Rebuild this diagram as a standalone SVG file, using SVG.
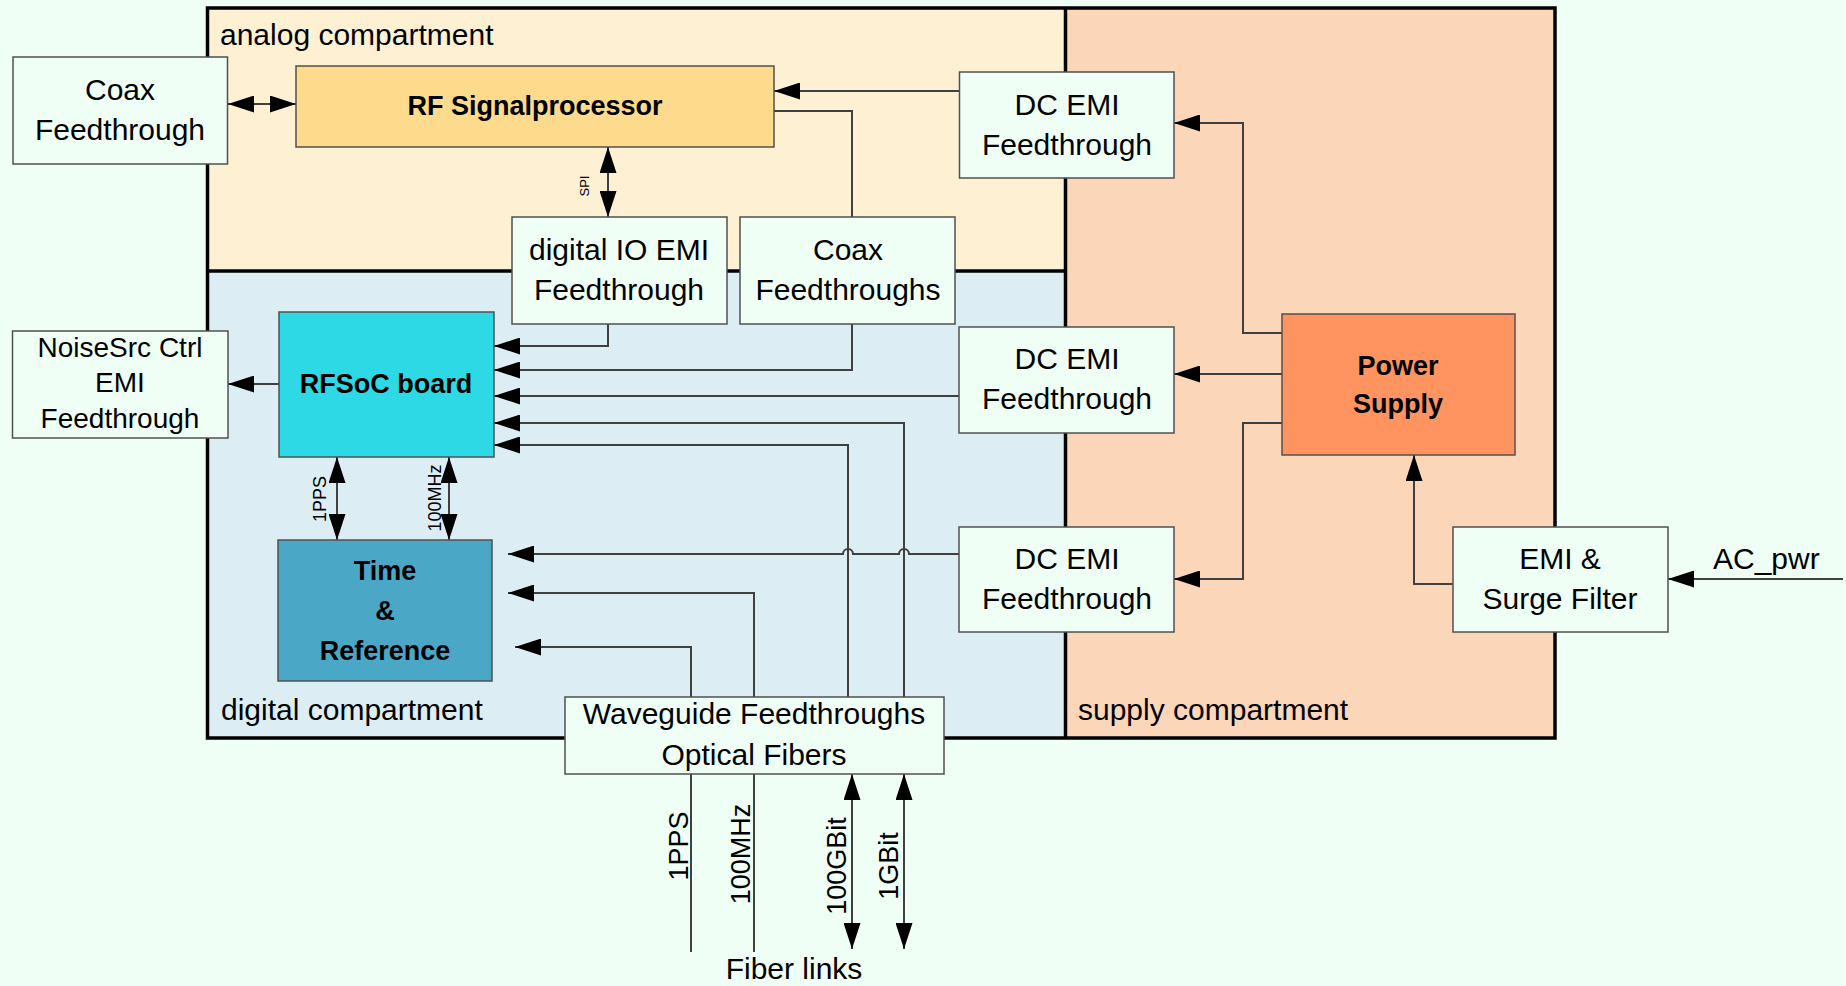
<svg xmlns="http://www.w3.org/2000/svg" width="1846" height="986" viewBox="0 0 1846 986">
<defs>
<marker id="ah" markerUnits="userSpaceOnUse" markerWidth="26" markerHeight="17" refX="26" refY="8.5" orient="auto-start-reverse">
<path d="M0,0 L26,8.5 L0,17 z" fill="#000"/>
</marker>
<style>
text{font-family:"Liberation Sans",Arial,sans-serif;fill:#000}
.t{font-size:30px;text-anchor:middle}
.tn{font-size:28px;text-anchor:middle}
.b{font-size:27px;font-weight:bold;text-anchor:middle}
.lab{font-size:30px}
.rl{font-size:27px;text-anchor:middle}
.sl{font-size:18px;text-anchor:middle}
.box{fill:#F0FFF5;stroke:#505050;stroke-width:1.5}
.cb{stroke:#505050;stroke-width:1.5}
.c{fill:none;stroke:#404040;stroke-width:2}
.a{marker-end:url(#ah)}
.aa{marker-start:url(#ah);marker-end:url(#ah)}
</style>
</defs>
<rect x="0" y="0" width="1846" height="986" fill="#F0FFF5"/>
<g id="compartments">
<rect x="207.5" y="8" width="858" height="263" fill="#FEF0D2"/>
<rect x="207.5" y="271" width="858" height="467" fill="#DDEDF4"/>
<rect x="1065.5" y="8" width="489.5" height="730" fill="#FCD6B9"/>
<rect x="207.5" y="8" width="1347.5" height="730" fill="none" stroke="#000" stroke-width="3.5"/>
<line x1="207.5" y1="271" x2="1065.5" y2="271" stroke="#000" stroke-width="3.5"/>
<line x1="1065.5" y1="8" x2="1065.5" y2="738" stroke="#000" stroke-width="3.5"/>
<text class="lab" x="220" y="45">analog compartment</text>
<text class="lab" x="221" y="720">digital compartment</text>
<text class="lab" x="1078" y="720">supply compartment</text>
</g>
<g id="connectors">
<path class="c aa" d="M228,104 H296"/>
<path class="c a" d="M960,91 H774"/>
<path class="c" d="M774,111 H852 V217"/>
<path class="c aa" d="M608,147 V217"/>
<path class="c a" d="M608,324 V346 H494"/>
<path class="c a" d="M852,324 V370 H494"/>
<path class="c a" d="M959,396 H494"/>
<path class="c a" d="M904,697 V423 H494"/>
<path class="c a" d="M848,697 V445 H494"/>
<path class="c a" d="M959,554 H909 a5,5 0 0 0 -10,0 H853 a5,5 0 0 0 -10,0 H508"/>
<path class="c a" d="M754,697 V593 H508"/>
<path class="c a" d="M691,697 V647 H515"/>
<path class="c a" d="M279,384 H228"/>
<path class="c aa" d="M337,457 V540"/>
<path class="c aa" d="M449,457 V540"/>
<path class="c a" d="M1282,333 H1243 V123 H1174"/>
<path class="c a" d="M1282,374 H1174"/>
<path class="c a" d="M1282,423 H1243 V579 H1174"/>
<path class="c a" d="M1453,584 H1414 V455"/>
<path class="c a" d="M1843,579 H1668"/>
<path class="c" d="M691,774 V952"/>
<path class="c" d="M754,774 V952"/>
<path class="c aa" d="M852,774 V949"/>
<path class="c aa" d="M904,774 V949"/>
<text style="font-size:13px;text-anchor:middle" transform="translate(589,186) rotate(-90)">SPI</text>
<text class="sl" transform="translate(326,499) rotate(-90)">1PPS</text>
<text class="sl" transform="translate(441,498) rotate(-90)">100MHz</text>
<text class="rl" transform="translate(688,846) rotate(-90)">1PPS</text>
<text class="rl" transform="translate(750,854) rotate(-90)">100MHz</text>
<text class="rl" transform="translate(846,866) rotate(-90)">100GBit</text>
<text class="rl" transform="translate(898,866) rotate(-90)">1GBit</text>
<text class="lab" x="1713" y="569">AC_pwr</text>
<text class="lab" x="794" y="979" text-anchor="middle">Fiber links</text>
</g>
<g id="coax-feedthrough">
<rect class="box" x="13" y="57" width="214.5" height="107"/>
<text class="t" x="120" y="100">Coax</text>
<text class="t" x="120" y="140">Feedthrough</text>
</g>
<g id="rf-signalprocessor">
<rect class="cb" x="296" y="66" width="478" height="81" fill="#FDDA8C"/>
<text class="b" x="535" y="115">RF Signalprocessor</text>
</g>
<g id="dc-emi-top">
<rect class="box" x="959.5" y="72" width="214.5" height="106"/>
<text class="t" x="1067" y="115">DC EMI</text>
<text class="t" x="1067" y="155">Feedthrough</text>
</g>
<g id="digital-io-emi">
<rect class="box" x="512" y="217" width="215" height="107"/>
<text class="t" x="619" y="260">digital IO EMI</text>
<text class="t" x="619" y="300">Feedthrough</text>
</g>
<g id="coax-feedthroughs">
<rect class="box" x="740" y="217" width="215" height="107"/>
<text class="t" x="848" y="260">Coax</text>
<text class="t" x="848" y="300">Feedthroughs</text>
</g>
<g id="noisesrc-ctrl">
<rect class="box" x="12.5" y="331" width="215.5" height="107"/>
<text class="tn" x="120" y="357">NoiseSrc Ctrl</text>
<text class="tn" x="120" y="392">EMI</text>
<text class="tn" x="120" y="428">Feedthrough</text>
</g>
<g id="rfsoc-board">
<rect class="cb" x="279" y="312" width="215" height="145" fill="#2DD9E5"/>
<text class="b" x="386" y="393">RFSoC board</text>
</g>
<g id="time-reference">
<rect class="cb" x="278" y="540" width="214" height="141" fill="#4AA8C6"/>
<text class="b" x="385" y="580">Time</text>
<text class="b" x="385" y="620">&amp;</text>
<text class="b" x="385" y="660">Reference</text>
</g>
<g id="dc-emi-middle">
<rect class="box" x="959" y="327" width="215" height="106"/>
<text class="t" x="1067" y="369">DC EMI</text>
<text class="t" x="1067" y="409">Feedthrough</text>
</g>
<g id="dc-emi-bottom">
<rect class="box" x="959" y="527" width="215" height="105"/>
<text class="t" x="1067" y="569">DC EMI</text>
<text class="t" x="1067" y="609">Feedthrough</text>
</g>
<g id="power-supply">
<rect class="cb" x="1282" y="314" width="233" height="141" fill="#FF9461"/>
<text class="b" x="1398" y="375">Power</text>
<text class="b" x="1398" y="413">Supply</text>
</g>
<g id="emi-surge-filter">
<rect class="box" x="1453" y="527" width="215" height="105"/>
<text class="t" x="1560" y="569">EMI &amp;</text>
<text class="t" x="1560" y="609">Surge Filter</text>
</g>
<g id="waveguide-feedthroughs">
<rect class="box" x="565" y="697" width="379" height="77"/>
<text class="t" x="754" y="724">Waveguide Feedthroughs</text>
<text class="t" x="754" y="765">Optical Fibers</text>
</g>
</svg>
